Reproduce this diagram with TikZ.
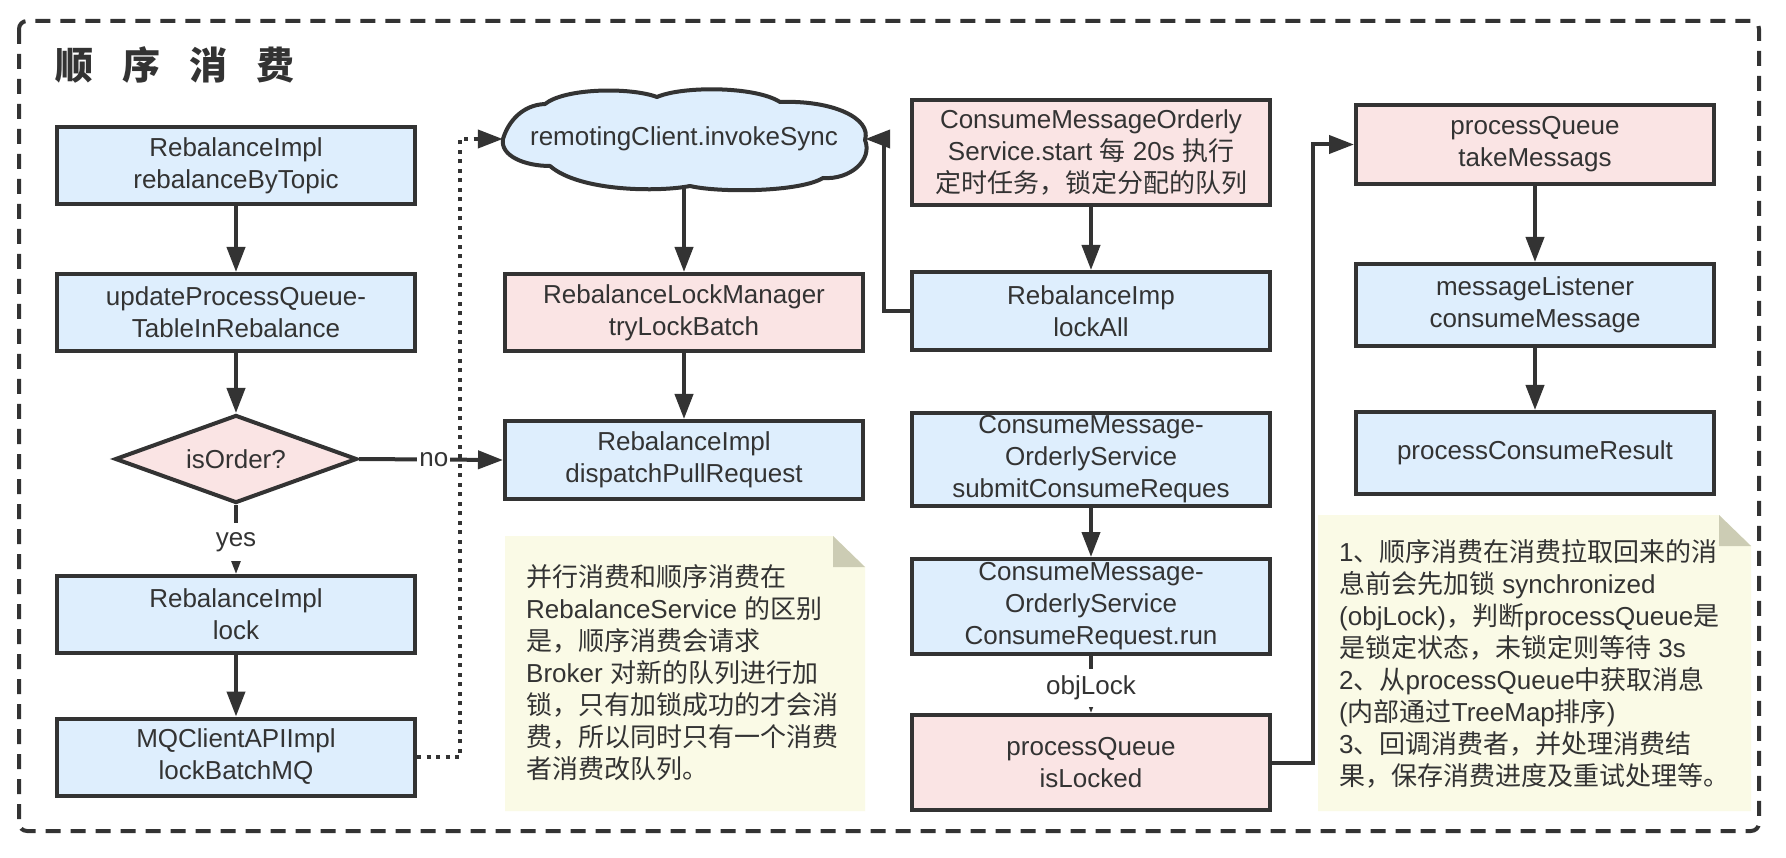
\documentclass[tikz,border=0pt]{standalone}
\usepackage{fontspec}
\setmainfont{Liberation Sans}
\newfontfamily\cjk{Noto Sans CJK SC}
\usetikzlibrary{arrows.meta,shapes.geometric}
\definecolor{ink}{HTML}{333333}
\definecolor{bluefill}{HTML}{DEEEFD}
\definecolor{pinkfill}{HTML}{FAE4E4}
\definecolor{notefill}{HTML}{FAFAE6}
\definecolor{foldfill}{HTML}{CCCCB4}
\newcommand\zh[1]{{\cjk #1}}
\begin{document}
\begin{tikzpicture}[x=1pt,y=-1pt,
  box/.style={draw=ink,line width=4pt,minimum width=358pt,minimum height=78pt,inner sep=0pt,align=center,text=ink,font=\fontsize{26}{32}\selectfont},
  bluebox/.style={box,fill=bluefill},
  pinkbox/.style={box,fill=pinkfill},
  arr/.style={draw=ink,line width=4pt,-{Triangle[length=25pt,width=18pt]}},
  dotline/.style={draw=ink,line width=4pt,dash pattern=on 4pt off 5.5pt},
  lbl/.style={fill=white,text=ink,font=\fontsize{26}{32}\selectfont,inner xsep=2pt,inner ysep=0pt,minimum height=38pt},
  notetext/.style={text=ink,font=\fontsize{26}{32}\selectfont,align=left,inner sep=0pt,anchor=west},
  framebox/.style={draw=ink,line width=4pt,dash pattern=on 15pt off 10pt,rounded corners=8pt},
  cloudline/.style={draw=ink,line width=4pt,fill=bluefill,line join=round}
]
\fill[white] (0,0) rectangle (1786,858);
\useasboundingbox (0,0) rectangle (1786,858);

% outer dashed frame
\draw[framebox] (19,21) rectangle (1759,831);

% title
\node[anchor=west,inner sep=0pt,text=ink,font=\fontsize{38}{40}\selectfont\cjk\bfseries] (title) at (55,65) {顺\hspace{29pt}序\hspace{29pt}消\hspace{29pt}费};

% notes
\fill[notefill] (505,536) -- (833,536) -- (865,567) -- (865,811) -- (505,811) -- cycle;
\fill[foldfill] (833,536) -- (833,567) -- (865,567) -- cycle;
\fill[notefill] (1318,515) -- (1719,515) -- (1751,546) -- (1751,811) -- (1318,811) -- cycle;
\fill[foldfill] (1719,515) -- (1719,546) -- (1751,546) -- cycle;

\node[notetext] (note1) at (526,673) {\zh{并行消费和顺序消费在}\\
RebalanceService \zh{的区别}\\
\zh{是，顺序消费会请求}\\
Broker \zh{对新的队列进行加}\\
\zh{锁，只有加锁成功的才会消}\\
\zh{费，所以同时只有一个消费}\\
\zh{者消费改队列。}};

\node[notetext] (note2) at (1339,664) {1\zh{、顺序消费在消费拉取回来的消}\\
\zh{息前会先加锁} synchronized\\
(objLock)\zh{，判断}processQueue\zh{是}\\
\zh{是锁定状态，未锁定则等待} 3s\\
2\zh{、从}processQueue\zh{中获取消息}\\
(\zh{内部通过}TreeMap\zh{排序})\\
3\zh{、回调消费者，并处理消费结}\\
\zh{果，保存消费进度及重试处理等。}};

% column 1
\node[bluebox,minimum height=77pt] (b1) at (236,165.5) {RebalanceImpl\\rebalanceByTopic};
\node[bluebox,minimum height=77pt] (b2) at (236,312.5) {updateProcessQueue-\\TableInRebalance};
\node[diamond,aspect=2.75,draw=ink,line width=4pt,fill=pinkfill,minimum width=242pt,minimum height=88pt,inner sep=0pt,text=ink,font=\fontsize{26}{32}\selectfont] (d) at (236,459) {isOrder?};
\node[bluebox,minimum height=77pt] (b3) at (236,614.5) {RebalanceImpl\\lock};
\node[bluebox,minimum height=77pt] (b4) at (236,757) {MQClientAPIImpl\\lockBatchMQ};

% column 2: cloud outline drawn directly, named node holds the text
\draw[cloudline] (503,139)
  .. controls (508,122) and (522,105) .. (545,104)
  .. controls (565,88) and (630,87) .. (657,97)
  .. controls (682,86) and (755,86) .. (780,102)
  .. controls (832,100) and (872,118) .. (865,140)
  .. controls (873,160) and (850,180) .. (823,178)
  .. controls (800,192) and (720,193) .. (690,186)
  .. controls (660,192) and (580,192) .. (550,166)
  .. controls (525,166) and (500,156) .. cycle;
\node[minimum width=362pt,minimum height=96pt,inner sep=0pt,text=ink,font=\fontsize{26}{32}\selectfont] (cl) at (684,139) {remotingClient.invokeSync};
\node[pinkbox,minimum height=77pt] (b5) at (684,312.5) {RebalanceLockManager\\tryLockBatch};
\node[bluebox,minimum height=78pt] (b6) at (684,460) {RebalanceImpl\\dispatchPullRequest};

% column 3
\node[pinkbox,minimum height=105pt] (c1) at (1091,152.5) {ConsumeMessageOrderly\\Service.start \zh{每} 20s \zh{执行}\\\zh{定时任务，锁定分配的队列}};
\node[bluebox,minimum height=78pt] (c2) at (1091,311) {RebalanceImp\\lockAll};
\node[bluebox,minimum height=93pt] (c3) at (1091,459.5) {ConsumeMessage-\\OrderlyService\\submitConsumeReques};
\node[bluebox,minimum height=95pt] (c4) at (1091,606.5) {ConsumeMessage-\\OrderlyService\\ConsumeRequest.run};
\node[pinkbox,minimum height=95pt] (c5) at (1091,762.5) {processQueue\\isLocked};

% column 4
\node[pinkbox,minimum height=79pt] (e1) at (1535,144.5) {processQueue\\takeMessags};
\node[bluebox,minimum height=82pt] (e2) at (1535,305) {messageListener\\consumeMessage};
\node[bluebox,minimum height=82pt] (e3) at (1535,453) {processConsumeResult};

% bend coordinates
\coordinate (dotx) at (460,757);
\coordinate (lkx) at (884,311);
\coordinate (ikx) at (1313,762.5);

% connectors
\draw[arr] (b1) -- (b2);
\draw[arr] (b2) -- (d);
\draw[arr] (b3) -- (b4);
\draw[dotline,-{Triangle[length=25pt,width=18pt]}] (b4.east) -- (dotx) |- (cl.west);
\draw[arr] (d.east) -- node[lbl,pos=0.52] (nolbl) {no} (b6.west);
\draw[arr] (d.south) -- node[lbl,pos=0.54] (yeslbl) {yes} (b3.north);
\draw[arr] (cl.south) -- (b5.north);
\draw[arr] (b5) -- (b6);
\draw[arr] (c2.west) -- (lkx) |- (cl.east);
\draw[arr] (c1) -- (c2);
\draw[arr] (c3) -- (c4);
\draw[arr] (c4.south) -- node[lbl,pos=0.56] (objlbl) {objLock} (c5.north);
\draw[arr] (c5.east) -- (ikx) |- (e1.west);
\draw[arr] (e1) -- (e2);
\draw[arr] (e2) -- (e3);
\end{tikzpicture}
\end{document}
